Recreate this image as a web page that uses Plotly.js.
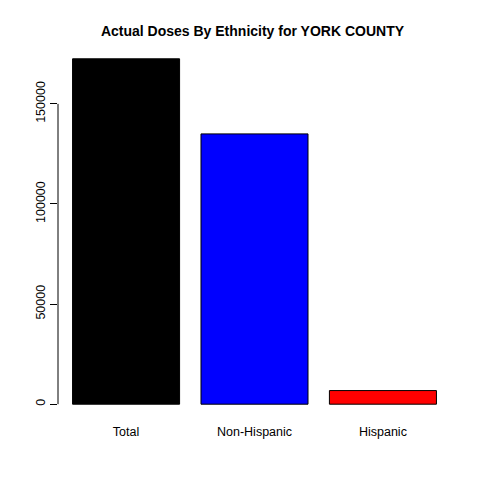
<!DOCTYPE html>
<html><head><meta charset="utf-8">
<script src="https://cdn.plot.ly/plotly-3.0.1.min.js"></script>
<style>html,body{margin:0;padding:0;background:#fff}#c{width:480px;height:480px}</style>
</head><body><div id="c"></div>
<script>
const categories = ["Total", "Non-Hispanic", "Hispanic"];
const doses = [172500, 135000, 6800];
const barColors = ["#000000", "#0000ff", "#ff0000"];
const yTicks = [0, 50000, 100000, 150000];
const yTickLabels = ["0", "50000", "100000", "150000"];

const maxV = Math.max(...doses);
const trace = {
  type: "bar", x: categories, y: doses,
  marker: {color: barColors, line: {color: "#000", width: 1}},
  hoverinfo: "none"
};
const layout = {
  width: 480, height: 480,
  margin: {l: 58, r: 29, t: 45, b: 62},
  paper_bgcolor: "#fff", plot_bgcolor: "#fff",
  bargap: 1 - 1/1.2,
  showlegend: false,
  font: {family: "Liberation Sans, Arial, sans-serif", color: "#000", size: 12},
  title: {text: "<b>Actual Doses By Ethnicity for YORK COUNTY</b>", x: 0.526, xanchor: "center", y: 1 - 31/480, yanchor: "middle", font: {size: 14, color: "#000"}},
  xaxis: {type: "category", range: [-0.53, 2.53], showline: false, showgrid: false, zeroline: false, ticks: "", tickfont: {size: 12.5}, ticklabelstandoff: 4, fixedrange: true},
  yaxis: {range: [-0.04*maxV, 1.04*maxV], tickvals: yTicks, ticktext: yTickLabels, tickangle: -90, ticks: "outside", ticklen: 7, tickcolor: "#000", showline: false, showgrid: false, zeroline: false, tickfont: {size: 12.5}, fixedrange: true},
  shapes: [{type: "line", xref: "paper", yref: "y", x0: 0, x1: 0, y0: yTicks[0], y1: yTicks[yTicks.length-1], line: {color: "#000", width: 1}}]
};
Plotly.newPlot("c", [trace], layout, {staticPlot: true, displayModeBar: false});
</script></body></html>
